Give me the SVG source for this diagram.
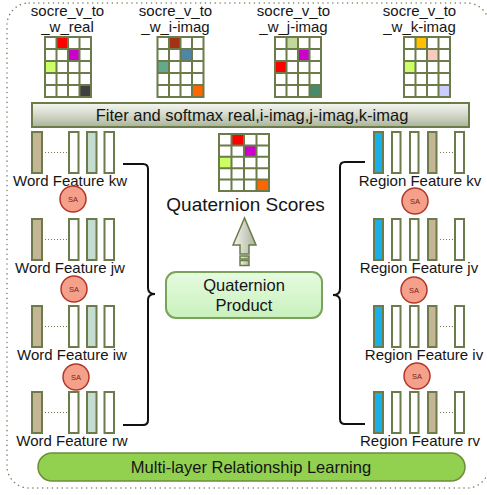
<svg xmlns="http://www.w3.org/2000/svg" xmlns:xlink="http://www.w3.org/1999/xlink" width="487" height="495" viewBox="0 0 487 495">
<style>
text{font-family:"Liberation Sans",Arial,sans-serif;fill:#151515}
.lbl{font-size:15px}
.glines{fill:none;stroke:#6b7b4a;stroke-width:2}
.bar{stroke:#6b7b4a;stroke-width:2}
.tan{fill:#c5b594}.teal{fill:#c5ddd0}.wht{fill:#fff}.blue{fill:#19b0ea}
.dots{fill:none;stroke:#6b7b4a;stroke-width:1;stroke-dasharray:1 2}
.sa circle{fill:#f4a08a;stroke:#b2372a;stroke-width:1.5}
.sa text{font-size:7.5px;fill:#7a2418;text-anchor:middle}
.brace{fill:none;stroke:#111;stroke-width:2}
</style>
<defs>
<linearGradient id="gFilter" x1="0" y1="0" x2="0" y2="1">
<stop offset="0" stop-color="#f6f7f2"/><stop offset="0.5" stop-color="#d3d8c8"/><stop offset="1" stop-color="#aab499"/>
</linearGradient>
<linearGradient id="gArrow" x1="0" y1="0" x2="1" y2="0">
<stop offset="0" stop-color="#f4f5f0"/><stop offset="1" stop-color="#a9b19a"/>
</linearGradient>
<linearGradient id="gProd" x1="0" y1="0" x2="0" y2="1">
<stop offset="0" stop-color="#e6fbe0"/><stop offset="1" stop-color="#c9f1bd"/>
</linearGradient>
<path id="gridTop" class="glines" d="M0,0H46V60H0Z M11.5,0V60 M23,0V60 M34.5,0V60 M0,12H46 M0,24H46 M0,36H46 M0,48H46"/>
<g id="wordBars">
<rect class="bar tan" x="32" y="0" width="10" height="41"/>
<line class="dots" x1="45" y1="20.5" x2="67" y2="20.5"/>
<rect class="bar wht" x="69" y="0" width="9.5" height="41"/>
<rect class="bar teal" x="87" y="0" width="9.5" height="41"/>
<rect class="bar wht" x="104.5" y="0" width="9.5" height="41"/>
</g>
<g id="regionBars">
<rect class="bar blue" x="374" y="0" width="9" height="41"/>
<rect class="bar wht" x="392" y="0" width="8.5" height="41"/>
<rect class="bar wht" x="410" y="0" width="8.5" height="41"/>
<rect class="bar tan" x="428" y="0" width="8.5" height="41"/>
<line class="dots" x1="440" y1="20.5" x2="453" y2="20.5"/>
<rect class="bar wht" x="455" y="0" width="9" height="41"/>
</g>
</defs>

<rect id="frame" x="7" y="3" width="482" height="485" rx="22" fill="none" stroke="#7c8060" stroke-width="1.5" stroke-linecap="round" stroke-dasharray="0.1 4.8"/>

<g id="score-real">
<text class="lbl" x="67.5" y="16" text-anchor="middle">socre_v_to</text>
<text class="lbl" x="67.5" y="32" text-anchor="middle">_w_real</text>
<g transform="translate(45,37)">
<rect width="46" height="60" fill="#fff"/>
<rect x="11.5" y="0" width="11.5" height="12" fill="#ff0000"/>
<rect x="23" y="12" width="11.5" height="12" fill="#cc00cc"/>
<rect x="0" y="24" width="11.5" height="12" fill="#ccff66"/>
<rect x="34.5" y="48" width="11.5" height="12" fill="#404040"/>
<use xlink:href="#gridTop"/>
</g>
</g>
<g id="score-i">
<text class="lbl" x="175.5" y="16" text-anchor="middle">socre_v_to</text>
<text class="lbl" x="175.5" y="32" text-anchor="middle">_w_i-imag</text>
<g transform="translate(157.5,37)">
<rect width="46" height="60" fill="#fff"/>
<rect x="11.5" y="0" width="11.5" height="12" fill="#a33214"/>
<rect x="23" y="12" width="11.5" height="12" fill="#4f86a6"/>
<rect x="0" y="24" width="11.5" height="12" fill="#66a88a"/>
<rect x="34.5" y="48" width="11.5" height="12" fill="#ff6600"/>
<use xlink:href="#gridTop"/>
</g>
</g>
<g id="score-j">
<text class="lbl" x="293.5" y="16" text-anchor="middle">socre_v_to</text>
<text class="lbl" x="293.5" y="32" text-anchor="middle">_w_j-imag</text>
<g transform="translate(275,37)">
<rect width="46" height="60" fill="#fff"/>
<rect x="11.5" y="0" width="11.5" height="12" fill="#c3d69b"/>
<rect x="23" y="12" width="11.5" height="12" fill="#cc00cc"/>
<rect x="0" y="24" width="11.5" height="12" fill="#ff0000"/>
<rect x="34.5" y="48" width="11.5" height="12" fill="#4a8a6a"/>
<use xlink:href="#gridTop"/>
</g>
</g>
<g id="score-k">
<text class="lbl" x="419.5" y="16" text-anchor="middle">socre_v_to</text>
<text class="lbl" x="419.5" y="32" text-anchor="middle">_w_k-imag</text>
<g transform="translate(404,37)">
<rect width="46" height="60" fill="#fff"/>
<rect x="11.5" y="0" width="11.5" height="12" fill="#ffc000"/>
<rect x="23" y="12" width="11.5" height="12" fill="#f8cbbf"/>
<rect x="0" y="24" width="11.5" height="12" fill="#ccff66"/>
<rect x="34.5" y="48" width="11.5" height="12" fill="#ccccff"/>
<use xlink:href="#gridTop"/>
</g>
</g>

<g id="filter">
<rect x="32" y="103" width="437" height="24" fill="url(#gFilter)" stroke="#6b7b4a" stroke-width="2"/>
<text x="252" y="121" font-size="16.5" text-anchor="middle">Fiter and softmax real,i-imag,j-imag,k-imag</text>
</g>

<g id="quaternion-scores">
<g transform="translate(219,134)">
<rect width="50" height="57" fill="#fff"/>
<rect x="12.5" y="0" width="12.5" height="11.4" fill="#ff0000"/>
<rect x="25" y="11.4" width="12.5" height="11.4" fill="#cc00cc"/>
<rect x="0" y="22.8" width="12.5" height="11.4" fill="#ccff66"/>
<rect x="37.5" y="45.6" width="12.5" height="11.4" fill="#ff6600"/>
<path class="glines" d="M0,0H50V57H0Z M12.5,0V57 M25,0V57 M37.5,0V57 M0,11.4H50 M0,22.8H50 M0,34.2H50 M0,45.6H50"/>
</g>
<text x="245.5" y="211" font-size="19" text-anchor="middle">Quaternion Scores</text>
</g>

<g id="quaternion-product">
<rect x="166" y="272" width="156" height="46" rx="10" fill="url(#gProd)" stroke="#7aa35a" stroke-width="2"/>
<text x="244" y="291" font-size="16.5" text-anchor="middle">Quaternion</text>
<text x="244" y="311" font-size="16.5" text-anchor="middle">Product</text>
</g>

<g id="word-kw"><use xlink:href="#wordBars" y="132"/><text class="lbl" x="70" y="186" text-anchor="middle">Word Feature kw</text></g>
<g id="word-jw"><use xlink:href="#wordBars" y="219"/><text class="lbl" x="70" y="273" text-anchor="middle">Word Feature jw</text></g>
<g id="word-iw"><use xlink:href="#wordBars" y="306"/><text class="lbl" x="72" y="360" text-anchor="middle">Word Feature iw</text></g>
<g id="word-rw"><use xlink:href="#wordBars" y="392"/><text class="lbl" x="72" y="446" text-anchor="middle">Word Feature rw</text></g>

<g id="sa-w1" class="sa"><circle cx="73" cy="199" r="13"/><text x="73" y="201.5">SA</text></g>
<g id="sa-w2" class="sa"><circle cx="74" cy="289" r="13"/><text x="74" y="291.5">SA</text></g>
<g id="sa-w3" class="sa"><circle cx="76" cy="377" r="13"/><text x="76" y="379.5">SA</text></g>

<g id="region-kv"><use xlink:href="#regionBars" y="132"/><text class="lbl" x="420" y="186" text-anchor="middle">Region Feature kv</text></g>
<g id="region-jv"><use xlink:href="#regionBars" y="219"/><text class="lbl" x="419" y="273" text-anchor="middle">Region Feature jv</text></g>
<g id="region-iv"><use xlink:href="#regionBars" y="306"/><text class="lbl" x="424" y="360" text-anchor="middle">Region Feature iv</text></g>
<g id="region-rv"><use xlink:href="#regionBars" y="392"/><text class="lbl" x="420" y="446" text-anchor="middle">Region Feature rv</text></g>

<g id="sa-r1" class="sa"><circle cx="415" cy="201" r="13"/><text x="415" y="203.5">SA</text></g>
<g id="sa-r2" class="sa"><circle cx="414" cy="290" r="13"/><text x="414" y="292.5">SA</text></g>
<g id="sa-r3" class="sa"><circle cx="417" cy="376" r="13"/><text x="417" y="378.5">SA</text></g>

<g id="bottom-bar">
<rect x="38" y="453" width="427" height="28" rx="14" fill="#92d050" stroke="#6b8f3a" stroke-width="1.5"/>
<text x="251" y="473" font-size="16.5" text-anchor="middle">Multi-layer Relationship Learning</text>
</g>

<g id="connectors">
<path class="brace" d="M123,164H143Q148,164 148,169V288Q148,294 155,294Q148,294 148,300V420Q148,425 143,425H123"/>
<path class="brace" d="M365,162H345Q340,162 340,167V289Q340,295 333,295Q340,295 340,301V419Q340,424 345,424H365"/>
<g id="arrow" fill="url(#gArrow)" stroke="#6b7b4a" stroke-width="1.5">
<polygon points="244.5,218 233,245 240,245 240,254 249,254 249,245 256,245"/>
<rect x="240" y="256" width="9" height="3"/>
<rect x="240" y="260.5" width="9" height="5"/>
</g>
</g>
</svg>
